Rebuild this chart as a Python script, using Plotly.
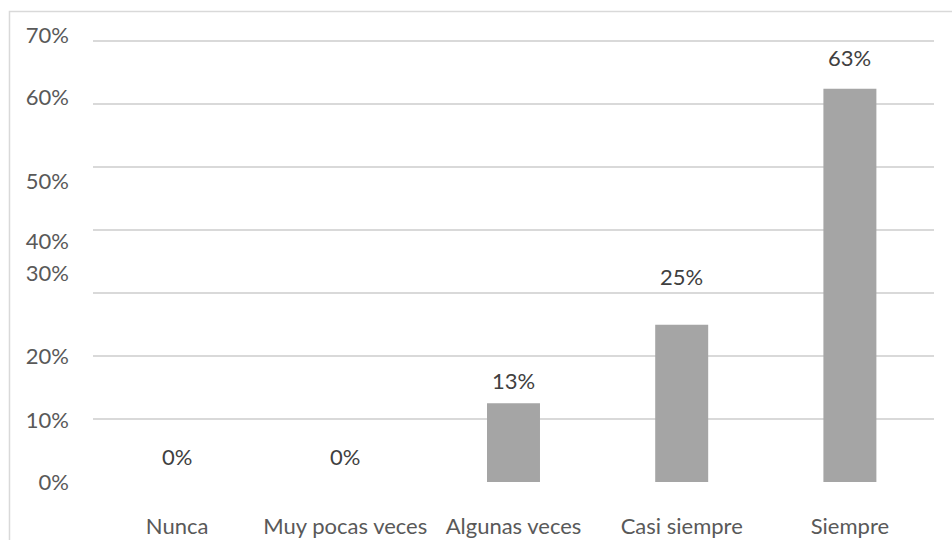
import plotly.graph_objects as go

categories = ["Nunca", "Muy pocas veces", "Algunas veces", "Casi siempre", "Siempre"]
values = [0, 0, 12.5, 25, 62.5]
value_labels = ["0%", "0%", "13%", "25%", "63%"]
grid_vals = [0, 10, 20, 30, 40, 50, 60, 70]
y_tick_text = ["0%", "10%", "20%", "30%", "40%", "50%", "60%", "70%"]
# label placement as in the source picture (the tick labels are slightly shifted)
y_tick_label_pos = [0, 9.8, 19.9, 33.2, 38.2, 47.8, 61.2, 71.0]
label_shift_px = [26, 26, 23, 48, 31]

FONT = "Lato"
fig = go.Figure()
fig.add_trace(go.Bar(x=categories, y=values, marker_color="#a5a5a5",
                     marker_line_width=0, hoverinfo="skip"))
# invisible trace to bind the second y axis
fig.add_trace(go.Scatter(x=categories, y=values, yaxis="y2", mode="markers",
                         marker_opacity=0, showlegend=False, hoverinfo="skip"))

for c, v, t, s in zip(categories, values, value_labels, label_shift_px):
    fig.add_annotation(x=c, y=v, text=t, showarrow=False, yanchor="middle",
                       yshift=s, font=dict(family=FONT, size=22, color="#404040"))

fig.update_layout(
    width=952, height=540,
    margin=dict(l=93, r=18, t=10, b=58),
    plot_bgcolor="white", paper_bgcolor="white",
    showlegend=False, bargap=0.685,
    xaxis=dict(showgrid=False, showline=False, zeroline=False, ticks="",
               tickfont=dict(family=FONT, size=22, color="#595959"),
               ticklabelstandoff=29, automargin=False),
    yaxis=dict(range=[0, 75], tickvals=grid_vals, showticklabels=False,
               showgrid=True, gridcolor="#d9d9d9", gridwidth=1.5,
               zeroline=False, showline=False, ticks="", automargin=False),
    yaxis2=dict(range=[0, 75], overlaying="y", side="left", anchor="x",
                tickvals=y_tick_label_pos, ticktext=y_tick_text,
                showgrid=False, zeroline=False, showline=False, ticks="",
                tickfont=dict(family=FONT, size=22, color="#595959"),
                ticklabelstandoff=23, automargin=False),
)
fig.add_shape(type="rect", xref="paper", yref="paper",
              x0=-0.0993, x1=1.05, y0=-0.3, y1=0.9968,
              line=dict(color="#d9d9d9", width=1.5), fillcolor="rgba(0,0,0,0)",
              layer="below")
fig.write_html("out.html")
